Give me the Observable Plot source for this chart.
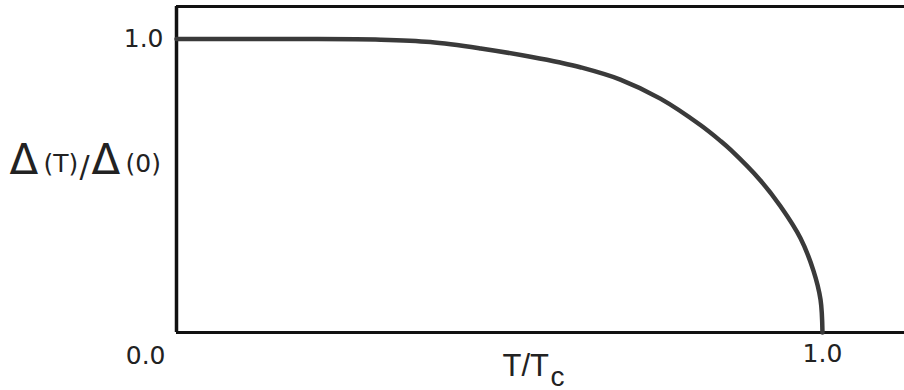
<!DOCTYPE html>
<html>
<head>
<meta charset="utf-8">
<script src="https://cdn.jsdelivr.net/npm/d3@7"></script>
<script src="https://cdn.jsdelivr.net/npm/@observablehq/plot@0.6"></script>
<style>
  html, body { margin: 0; padding: 0; background: #fff; }
</style>
</head>
<body>
<div id="chart"></div>
<script>
// Reduced temperature T/Tc
const tValues = [0, 0.1, 0.19, 0.316, 0.393, 0.471, 0.55, 0.594, 0.625, 0.687, 0.749, 0.811, 0.842, 0.858, 0.904, 0.935, 0.966, 0.986, 0.997, 1.0];
// Normalised gap Δ(T)/Δ(0)
const gapValues = [1.0, 1.0, 1.0, 0.998, 0.99, 0.968, 0.939, 0.92, 0.904, 0.862, 0.797, 0.707, 0.653, 0.622, 0.518, 0.43, 0.321, 0.211, 0.112, 0.0];
const xTicks = [1.0];
const yTicks = [1.0];
const originLabel = ["0.0"];
const xLabel = "T/T";
const xLabelSub = "c";
const yLabelParts = ["Δ", "(T)", "/", "Δ", "(0)"];

const data = tValues.map((t, i) => ({t, g: gapValues[i]}));
const xMax = 1.127, yMax = 1.111;
const tickFont = "DejaVu Sans, sans-serif";

const plot = Plot.plot({
  width: 904,
  height: 390,
  marginLeft: 176,
  marginRight: 0,
  marginTop: 6,
  marginBottom: 58,
  style: {fontFamily: tickFont, background: "#fff", color: "#111"},
  x: {domain: [0, xMax]},
  y: {domain: [0, yMax]},
  marks: [
    Plot.axisY({ticks: yTicks, tickSize: 0, tickPadding: 13, tickFormat: d3.format(".1f"), fontSize: 25, label: null, fill: "#222"}),
    Plot.axisX({ticks: xTicks, tickSize: 0, tickPadding: 12, tickFormat: d3.format(".1f"), fontSize: 25, label: null, fill: "#222"}),
    Plot.text(originLabel, {x: () => 0, y: () => 0, text: d => d, textAnchor: "end", dx: -11, dy: 23, fontSize: 25, fill: "#222"}),
    // x label
    Plot.text([xLabel], {frameAnchor: "bottom", text: d => d, textAnchor: "start", lineAnchor: "bottom", dx: 502 - 540, dy: 43, fontSize: 31, fontFamily: "Liberation Sans, sans-serif", fill: "#222"}),
    Plot.text([xLabelSub], {frameAnchor: "bottom", text: d => d, textAnchor: "start", lineAnchor: "bottom", dx: 550 - 540, dy: 53, fontSize: 28, fontFamily: "Liberation Sans, sans-serif", fill: "#222"}),
    // y label pieces
    Plot.text([yLabelParts[0]], {frameAnchor: "left", text: d => d, textAnchor: "start", dx: 9 - 176, dy: -9, fontSize: 42, fill: "#222"}),
    Plot.text([yLabelParts[1]], {frameAnchor: "left", text: d => d, textAnchor: "start", dx: 43 - 176, dy: -6, fontSize: 25, fill: "#222"}),
    Plot.text([yLabelParts[2]], {frameAnchor: "left", text: d => d, textAnchor: "start", dx: 79 - 176, dy: -2, fontSize: 30, fill: "#222"}),
    Plot.text([yLabelParts[3]], {frameAnchor: "left", text: d => d, textAnchor: "start", dx: 91 - 176, dy: -9, fontSize: 42, fill: "#222"}),
    Plot.text([yLabelParts[4]], {frameAnchor: "left", text: d => d, textAnchor: "start", dx: 125 - 176, dy: -6, fontSize: 25, fill: "#222"}),
    // frame
    Plot.ruleY([0], {stroke: "#111", strokeWidth: 3}),
    Plot.ruleY([yMax], {stroke: "#111", strokeWidth: 3}),
    Plot.ruleX([0], {stroke: "#111", strokeWidth: 3.5}),
    // curve
    Plot.line(data, {x: "t", y: "g", stroke: "#3a3a3a", strokeWidth: 4.5, curve: "catmull-rom"})
  ]
});
document.getElementById("chart").appendChild(plot);
</script>
</body>
</html>
